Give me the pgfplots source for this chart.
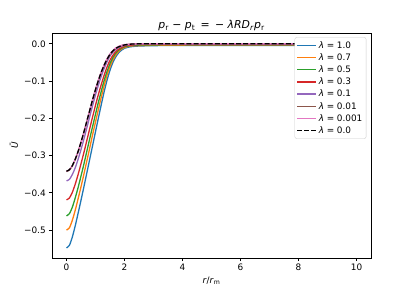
\documentclass[border=0pt]{standalone}
\usepackage{fontspec}
\setmainfont{DejaVu Sans}
\usepackage{pgfplots}
\usepackage{pgfplotstable}
\pgfplotsset{compat=1.18}
\definecolor{cblue}{HTML}{1F77B4}
\definecolor{corange}{HTML}{FF7F0E}
\definecolor{cgreen}{HTML}{2CA02C}
\definecolor{cred}{HTML}{D62728}
\definecolor{cpurple}{HTML}{9467BD}
\definecolor{cbrown}{HTML}{8C564B}
\definecolor{cpink}{HTML}{E377C2}

\pgfplotstableread{
r blue orange green red purple brown pink black
0 -0.548 -0.500 -0.462 -0.419 -0.368 -0.343 -0.342 -0.342
0.1 -0.541 -0.494 -0.456 -0.414 -0.364 -0.339 -0.338 -0.338
0.2 -0.519 -0.474 -0.439 -0.399 -0.351 -0.328 -0.327 -0.327
0.3 -0.489 -0.447 -0.414 -0.377 -0.333 -0.311 -0.310 -0.310
0.4 -0.455 -0.416 -0.386 -0.351 -0.310 -0.290 -0.289 -0.289
0.5 -0.420 -0.384 -0.355 -0.322 -0.284 -0.265 -0.264 -0.264
0.6 -0.384 -0.350 -0.323 -0.292 -0.256 -0.238 -0.237 -0.237
0.7 -0.347 -0.315 -0.289 -0.260 -0.226 -0.209 -0.208 -0.208
0.8 -0.310 -0.280 -0.255 -0.228 -0.196 -0.180 -0.179 -0.179
0.9 -0.273 -0.244 -0.222 -0.196 -0.166 -0.151 -0.150 -0.150
1.0 -0.236 -0.210 -0.189 -0.165 -0.137 -0.124 -0.122 -0.123
1.1 -0.199 -0.176 -0.157 -0.136 -0.111 -0.099 -0.097 -0.098
1.2 -0.163 -0.143 -0.127 -0.109 -0.087 -0.077 -0.075 -0.076
1.3 -0.128 -0.112 -0.098 -0.084 -0.066 -0.058 -0.056 -0.057
1.4 -0.097 -0.084 -0.074 -0.062 -0.048 -0.042 -0.040 -0.041
1.5 -0.071 -0.061 -0.053 -0.044 -0.033 -0.029 -0.027 -0.028
1.6 -0.050 -0.043 -0.037 -0.031 -0.023 -0.020 -0.018 -0.019
1.7 -0.035 -0.030 -0.025 -0.021 -0.015 -0.013 -0.011 -0.012
1.8 -0.024 -0.020 -0.017 -0.014 -0.010 -0.008 -0.007 -0.008
1.9 -0.017 -0.014 -0.012 -0.010 -0.0065 -0.005 -0.004 -0.005
2.0 -0.012 -0.010 -0.008 -0.006 -0.004 -0.003 -0.002 -0.003
2.2 -0.008 -0.006 -0.005 -0.004 -0.002 -0.001 -0.001 -0.001
2.5 -0.006 -0.005 -0.0035 -0.002 -0.0008 0 0 0
3.0 -0.005 -0.004 -0.003 -0.002 -0.0006 0 0 0
4.0 -0.0045 -0.0035 -0.0026 -0.0017 -0.0005 0 0 0
10 -0.004 -0.003 -0.0023 -0.0015 -0.0005 0 0 0
}\datatable

\newcommand{\lam}[1]{\textit{λ}\hspace{2.6pt}=\hspace{2.6pt}#1}

\begin{document}
\begin{tikzpicture}
\fontsize{8.9}{10.7}\selectfont
\begin{axis}[
  at={(0,0)}, anchor=south west,
  scale only axis, width=319pt, height=225pt,
  xmin=-0.5, xmax=10.5, ymin=-0.575, ymax=0.029,
  xtick={0,2,4,6,8,10},
  ytick={-0.5,-0.4,-0.3,-0.2,-0.1,0},
  yticklabels={−0.5,−0.4,−0.3,−0.2,−0.1,0.0},
  /pgf/number format/assume math mode=true,
  tick pos=left, tick align=outside,
  major tick length=3.1pt,
  tick style={black, line width=0.7pt},
  axis line style={line width=0.7pt},
  ticklabel style={font=\fontsize{8.9}{10}\selectfont},
  label style={font=\fontsize{8.9}{10}\selectfont},
  xlabel={\textit{r}/\textit{r}\textsubscript{m}},
  ylabel={\textit{Ū}},
  legend cell align=left,
  legend style={at={(0.9855,0.981)}, anchor=north east, draw=black!20, rounded corners=2pt,
    fill=white, font=\fontsize{8.9}{10}\selectfont, inner sep=1.8pt, row sep=0.1pt},
  legend image code/.code={\draw[#1, line width=1.4pt] (0pt,0pt) -- (19pt,0pt);},
  every axis plot/.append style={line width=1.3pt, smooth, tension=0.4},
]
\addplot[cblue] table[x=r, y=blue] {\datatable};
\addlegendentry{\lam{1.0}}
\addplot[corange] table[x=r, y=orange] {\datatable};
\addlegendentry{\lam{0.7}}
\addplot[cgreen] table[x=r, y=green] {\datatable};
\addlegendentry{\lam{0.5}}
\addplot[cred] table[x=r, y=red] {\datatable};
\addlegendentry{\lam{0.3}}
\addplot[cpurple] table[x=r, y=purple] {\datatable};
\addlegendentry{\lam{0.1}}
\addplot[cbrown] table[x=r, y=brown] {\datatable};
\addlegendentry{\lam{0.01}}
\addplot[cpink] table[x=r, y=pink] {\datatable};
\addlegendentry{\lam{0.001}}
\addplot[black, dash pattern=on 5pt off 2.1pt] table[x=r, y=black] {\datatable};
\addlegendentry{\lam{0.0}}
\end{axis}
\node[anchor=base, inner sep=0pt, font=\fontsize{10.9}{13}\selectfont] at (159.5pt,229.5pt)
  {\textit{p}\textsubscript{r} − \textit{p}\textsubscript{t} \,=\, − \textit{λRD}\textsubscript{\textit{r}}\textit{p}\textsubscript{r}};
\path (-52pt,-33pt) rectangle (360pt,258pt);
\end{tikzpicture}
\end{document}
